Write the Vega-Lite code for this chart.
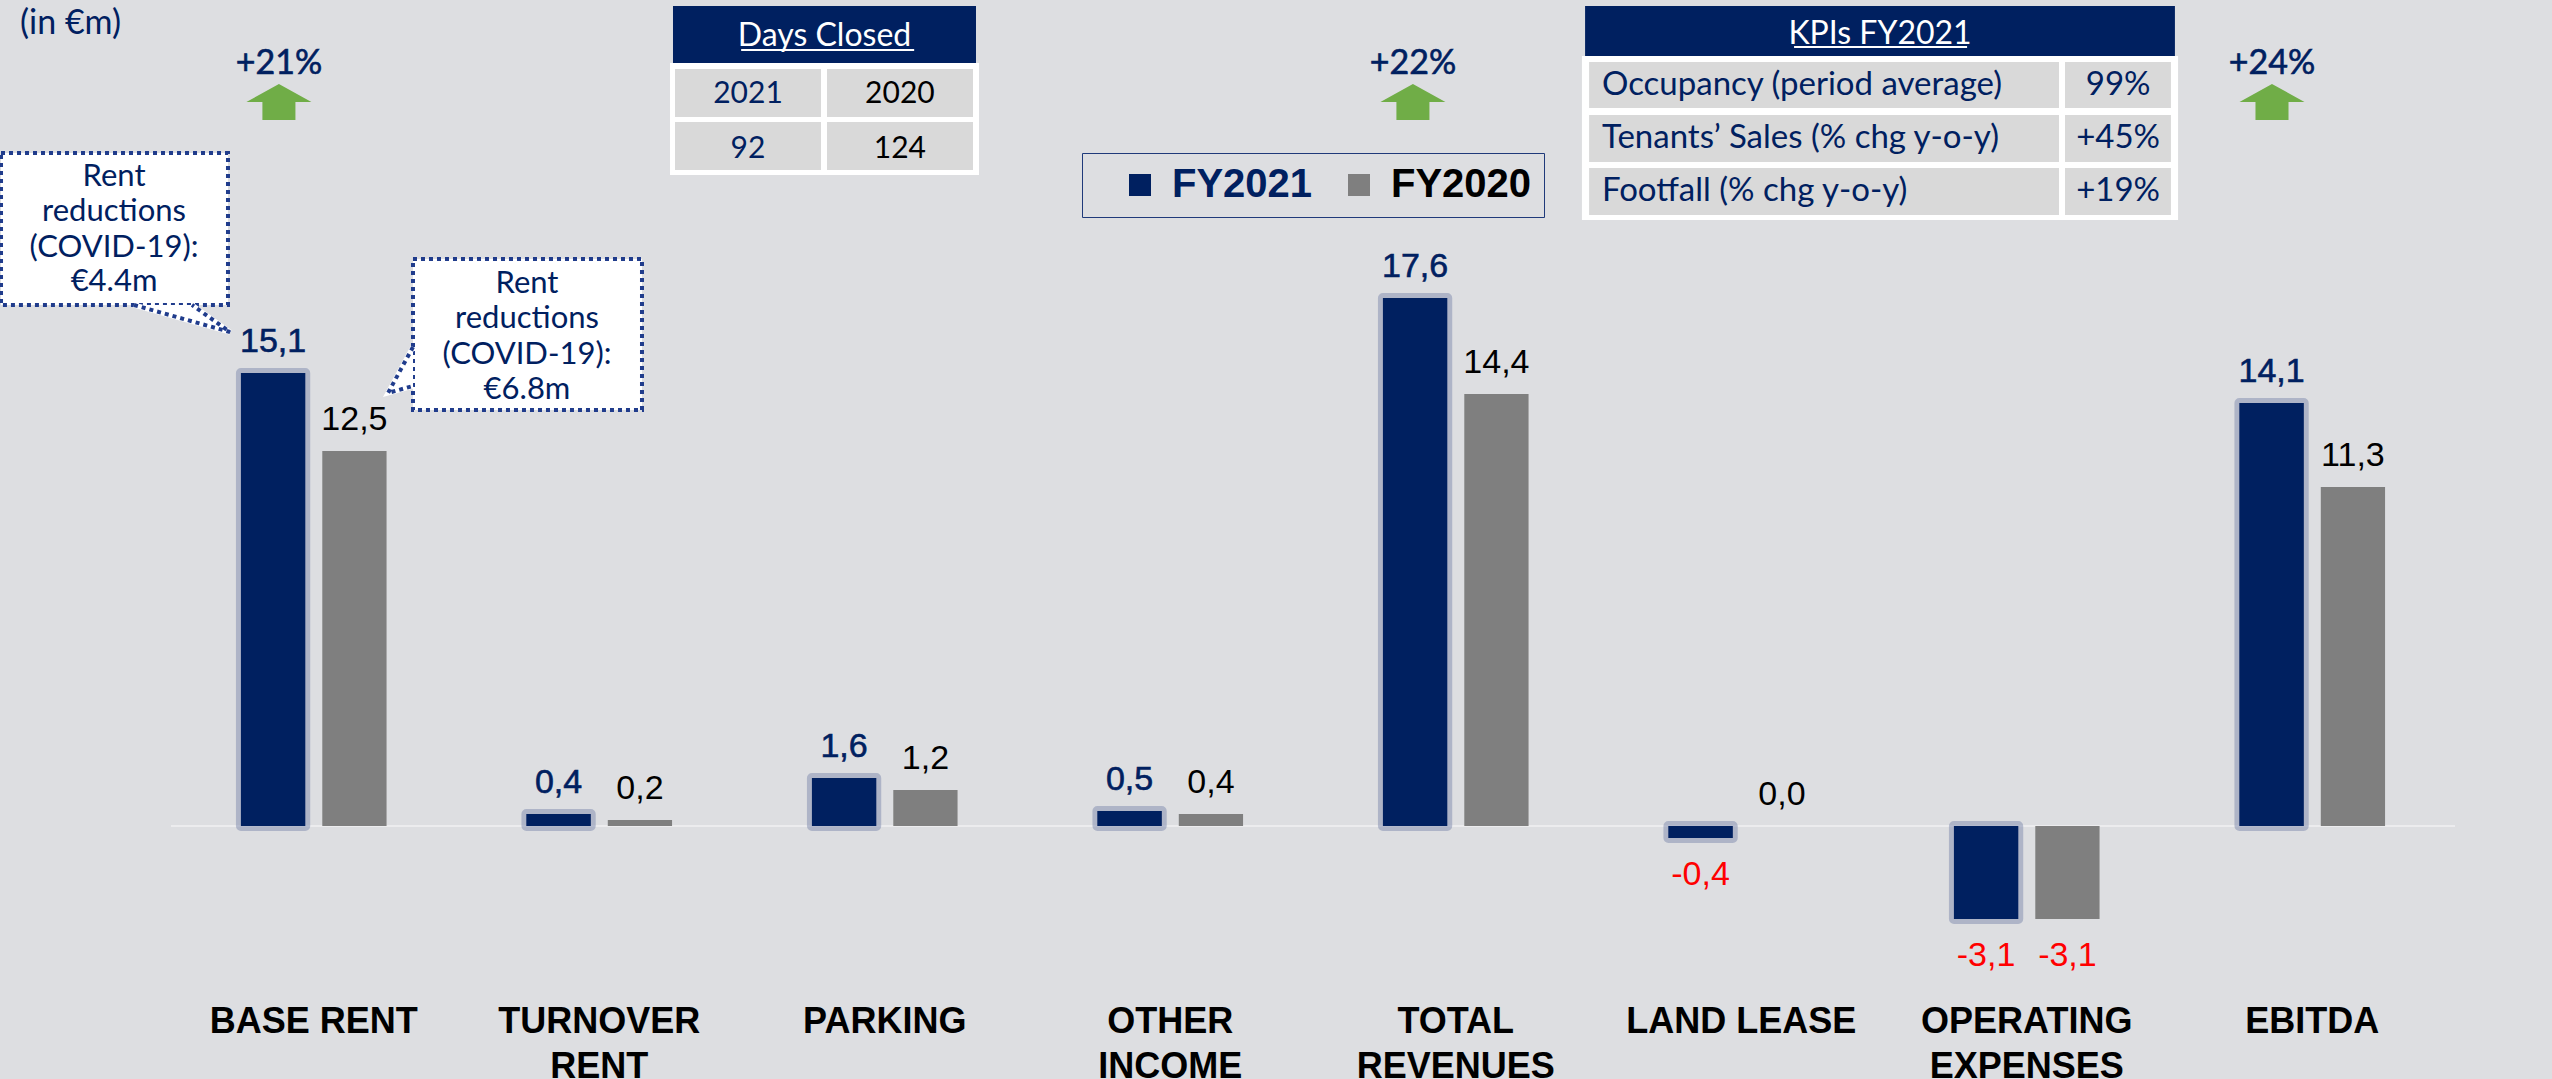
{
  "$schema": "https://vega.github.io/schema/vega-lite/v6.json",
  "width": 2552,
  "height": 985,
  "padding": {"left": 0, "top": 0, "right": 0, "bottom": 94},
  "autosize": {"type": "none"},
  "background": "#dddee1",
  "config": {
    "view": {"stroke": null},
    "locale": {"number": {"decimal": ",", "thousands": ".", "grouping": [3], "currency": ["", " €"], "minus": "-"}}
  },
  "datasets": {
    "bars": [
      {"cat": "BASE RENT", "series": "FY2021", "value": 15.1},
      {"cat": "BASE RENT", "series": "FY2020", "value": 12.5},
      {"cat": "TURNOVER|RENT", "series": "FY2021", "value": 0.4},
      {"cat": "TURNOVER|RENT", "series": "FY2020", "value": 0.2},
      {"cat": "PARKING", "series": "FY2021", "value": 1.6},
      {"cat": "PARKING", "series": "FY2020", "value": 1.2},
      {"cat": "OTHER|INCOME", "series": "FY2021", "value": 0.5},
      {"cat": "OTHER|INCOME", "series": "FY2020", "value": 0.4},
      {"cat": "TOTAL|REVENUES", "series": "FY2021", "value": 17.6},
      {"cat": "TOTAL|REVENUES", "series": "FY2020", "value": 14.4},
      {"cat": "LAND LEASE", "series": "FY2021", "value": -0.4},
      {"cat": "LAND LEASE", "series": "FY2020", "value": 0.0},
      {"cat": "OPERATING|EXPENSES", "series": "FY2021", "value": -3.1},
      {"cat": "OPERATING|EXPENSES", "series": "FY2020", "value": -3.1},
      {"cat": "EBITDA", "series": "FY2021", "value": 14.1},
      {"cat": "EBITDA", "series": "FY2020", "value": 11.3}
    ],
    "baseline": [{"u": 0, "u2": 8, "v": 0}],
    "rects": [
      {"grp": "frame", "u": 1.7478, "u2": 2.8301, "v": 25.433, "v2": 21.7},
      {"grp": "frame", "u": 4.942, "u2": 7.03, "v": 25.667, "v2": 20.2},
      {"grp": "header", "u": 1.7583, "u2": 2.8196, "v": 27.333, "v2": 25.433},
      {"grp": "header", "u": 4.953, "u2": 7.019, "v": 27.333, "v2": 25.667},
      {"grp": "cell", "u": 1.7653, "u2": 2.2767, "v": 25.233, "v2": 23.633},
      {"grp": "cell", "u": 2.2977, "u2": 2.8091, "v": 25.233, "v2": 23.633},
      {"grp": "cell", "u": 1.7653, "u2": 2.2767, "v": 23.467, "v2": 21.867},
      {"grp": "cell", "u": 2.2977, "u2": 2.8091, "v": 23.467, "v2": 21.867},
      {"grp": "cell", "u": 4.967, "u2": 6.613, "v": 25.467, "v2": 23.933},
      {"grp": "cell", "u": 6.634, "u2": 7.005, "v": 25.467, "v2": 23.933},
      {"grp": "cell", "u": 4.967, "u2": 6.613, "v": 23.7, "v2": 22.133},
      {"grp": "cell", "u": 6.634, "u2": 7.005, "v": 23.7, "v2": 22.133},
      {"grp": "cell", "u": 4.967, "u2": 6.613, "v": 21.933, "v2": 20.367},
      {"grp": "cell", "u": 6.634, "u2": 7.005, "v": 21.933, "v2": 20.367},
      {"grp": "callout", "u": -0.5954, "u2": 0.1996, "v": 22.433, "v2": 17.367},
      {"grp": "callout", "u": 0.8476, "u2": 1.6497, "v": 18.9, "v2": 13.867}
    ],
    "tails": [
      {"id": 1, "ord": 1, "u": -0.1296, "v": 17.367},
      {"id": 1, "ord": 2, "u": 0.2067, "v": 16.467},
      {"id": 1, "ord": 3, "u": 0.0736, "v": 17.367},
      {"id": 2, "ord": 1, "u": 0.8476, "v": 15.967},
      {"id": 2, "ord": 2, "u": 0.7601, "v": 14.433},
      {"id": 2, "ord": 3, "u": 0.8476, "v": 14.667}
    ],
    "underlines": [
      {"u": 1.997, "u2": 2.603, "v": 25.867},
      {"u": 5.685, "u2": 6.291, "v": 25.967}
    ],
    "arrows": [
      {"u": 0.378, "v": 24.133},
      {"u": 4.35, "v": 24.133},
      {"u": 7.359, "v": 24.133}
    ],
    "texts": [
      {"grp": "unit", "t": "(in €m)", "u": -0.529, "v": 26.733},
      {"grp": "pct", "t": "+21%", "u": 0.378, "v": 25.4},
      {"grp": "pct", "t": "+22%", "u": 4.35, "v": 25.4},
      {"grp": "pct", "t": "+24%", "u": 7.359, "v": 25.4},
      {"grp": "callout", "t": "Rent", "u": -0.1996, "v": 21.633},
      {"grp": "callout", "t": "reductions", "u": -0.1996, "v": 20.467},
      {"grp": "callout", "t": "(COVID-19):", "u": -0.1996, "v": 19.267},
      {"grp": "callout", "t": "€4.4m", "u": -0.1996, "v": 18.133},
      {"grp": "callout", "t": "Rent", "u": 1.2469, "v": 18.067},
      {"grp": "callout", "t": "reductions", "u": 1.2469, "v": 16.9},
      {"grp": "callout", "t": "(COVID-19):", "u": 1.2469, "v": 15.7},
      {"grp": "callout", "t": "€6.8m", "u": 1.2469, "v": 14.533},
      {"grp": "head", "t": "Days Closed", "u": 2.289, "v": 26.333},
      {"grp": "head", "t": "KPIs FY2021", "u": 5.986, "v": 26.4},
      {"grp": "days21", "t": "2021", "u": 2.021, "v": 24.4},
      {"grp": "days21", "t": "92", "u": 2.021, "v": 22.567},
      {"grp": "days20", "t": "2020", "u": 2.553, "v": 24.4},
      {"grp": "days20", "t": "124", "u": 2.553, "v": 22.567},
      {"grp": "kpil", "t": "Occupancy (period average)", "u": 5.012, "v": 24.7},
      {"grp": "kpil", "t": "Tenants’ Sales (% chg y-o-y)", "u": 5.012, "v": 22.933},
      {"grp": "kpil", "t": "Footfall (% chg y-o-y)", "u": 5.012, "v": 21.167},
      {"grp": "kpiv", "t": "99%", "u": 6.82, "v": 24.7},
      {"grp": "kpiv", "t": "+45%", "u": 6.82, "v": 22.933},
      {"grp": "kpiv", "t": "+19%", "u": 6.82, "v": 21.167}
    ]
  },
  "layer": [
    {
      "data": {"name": "baseline"},
      "mark": {"type": "rule", "color": "#ececee", "strokeWidth": 2},
      "encoding": {
        "x": {"field": "u", "type": "quantitative", "scale": {"domain": [0, 8], "range": [171, 2455], "nice": false, "zero": false}, "axis": null},
        "x2": {"field": "u2"},
        "y": {"field": "v", "type": "quantitative", "scale": {"domain": [-5.3, 27.533], "nice": false, "zero": false}, "axis": null}
      }
    },
    {
      "data": {"name": "bars"},
      "encoding": {
        "x": {
          "field": "cat", "type": "nominal", "sort": null,
          "scale": {"range": [171, 2455], "paddingInner": 0.49, "paddingOuter": 0.245},
          "axis": {
            "title": null, "domain": false, "ticks": false, "grid": false, "labelAngle": 0,
            "labelFont": "Liberation Sans", "labelFontSize": 36, "labelFontWeight": "bold", "labelColor": "#000000",
            "labelPadding": 19, "labelBaseline": "top", "labelLineHeight": 45,
            "labelExpr": "split(datum.label, '|')", "labelLimit": 500, "labelOverlap": false
          }
        },
        "xOffset": {"field": "series", "type": "nominal", "sort": ["FY2021", "FY2020"], "scale": {"paddingInner": 0.21, "paddingOuter": 0}},
        "y": {"field": "value", "type": "quantitative", "scale": {"domain": [-5.3, 27.533], "nice": false, "zero": false}, "axis": null}
      },
      "layer": [
        {
          "transform": [{"filter": "datum.series == 'FY2021'"}],
          "mark": {"type": "bar", "fill": "#002060", "stroke": "#8791b3", "strokeWidth": 10, "strokeOpacity": 0.55, "strokeJoin": "round"}
        },
        {
          "mark": {"type": "bar"},
          "encoding": {
            "color": {
              "field": "series", "type": "nominal",
              "scale": {"domain": ["FY2021", "FY2020"], "range": ["#002060", "#7f7f7f"]},
              "legend": {
                "orient": "none", "legendX": 1082, "legendY": 153, "direction": "horizontal", "title": null,
                "symbolType": "square", "symbolSize": 484, "symbolStrokeWidth": 0, "symbolOpacity": 1,
                "labelFont": "Liberation Sans", "labelFontSize": 40, "labelFontWeight": "bold",
                "padding": 12, "strokeColor": "#1f3a7a", "symbolOffset": 26, "labelOffset": 12,
                "columnPadding": 0, "labelLimit": 400,
                "encode": {"labels": {"update": {"fill": {"signal": "datum.value === 'FY2021' ? '#002060' : '#000000'"}}}}
              }
            }
          }
        },
        {
          "transform": [{"filter": "datum.series == 'FY2021' && datum.value >= 0"}],
          "mark": {"type": "text", "font": "Liberation Sans", "fontSize": 34, "color": "#002060", "stroke": "#002060", "strokeWidth": 0.6, "baseline": "alphabetic", "dy": -21},
          "encoding": {"text": {"field": "value", "type": "quantitative", "format": ".1f"}}
        },
        {
          "transform": [{"filter": "datum.series == 'FY2020' && datum.value >= 0"}],
          "mark": {"type": "text", "font": "Liberation Sans", "fontSize": 34, "color": "#000000", "baseline": "alphabetic", "dy": -21},
          "encoding": {"text": {"field": "value", "type": "quantitative", "format": ".1f"}}
        },
        {
          "transform": [{"filter": "datum.value < 0"}],
          "mark": {"type": "text", "font": "Liberation Sans", "fontSize": 34, "color": "#ff0000", "baseline": "top", "dy": 20},
          "encoding": {"text": {"field": "value", "type": "quantitative", "format": ".1f"}}
        }
      ]
    },
    {
      "encoding": {
        "x": {"field": "u", "type": "quantitative", "scale": {"domain": [0, 8], "range": [171, 2455], "nice": false, "zero": false}, "axis": null},
        "y": {"field": "v", "type": "quantitative", "scale": {"domain": [-5.3, 27.533], "nice": false, "zero": false}, "axis": null}
      },
      "layer": [
        {
          "data": {"name": "rects"},
          "transform": [{"filter": "datum.grp == 'frame'"}],
          "mark": {"type": "rect", "color": "#ffffff"},
          "encoding": {"x2": {"field": "u2"}, "y2": {"field": "v2"}}
        },
        {
          "data": {"name": "rects"},
          "transform": [{"filter": "datum.grp == 'header'"}],
          "mark": {"type": "rect", "color": "#002060"},
          "encoding": {"x2": {"field": "u2"}, "y2": {"field": "v2"}}
        },
        {
          "data": {"name": "rects"},
          "transform": [{"filter": "datum.grp == 'cell'"}],
          "mark": {"type": "rect", "color": "#d9d9d9"},
          "encoding": {"x2": {"field": "u2"}, "y2": {"field": "v2"}}
        },
        {
          "data": {"name": "rects"},
          "transform": [{"filter": "datum.grp == 'callout'"}],
          "mark": {"type": "rect", "fill": "#ffffff", "stroke": "#203c8c", "strokeWidth": 4, "strokeDash": [4, 4]},
          "encoding": {"x2": {"field": "u2"}, "y2": {"field": "v2"}}
        },
        {
          "data": {"name": "tails"},
          "mark": {"type": "line", "fill": "#ffffff", "stroke": "#ffffff", "strokeWidth": 5},
          "encoding": {"detail": {"field": "id"}, "order": {"field": "ord"}}
        },
        {
          "data": {"name": "tails"},
          "mark": {"type": "line", "stroke": "#203c8c", "strokeWidth": 4, "strokeDash": [4, 4]},
          "encoding": {"detail": {"field": "id"}, "order": {"field": "ord"}}
        },
        {
          "data": {"name": "underlines"},
          "mark": {"type": "rule", "color": "#ffffff", "strokeWidth": 2},
          "encoding": {"x2": {"field": "u2"}}
        },
        {
          "data": {"name": "arrows"},
          "mark": {"type": "point", "shape": "M0,-0.554 L1,0 L0.508,0 L0.508,0.554 L-0.508,0.554 L-0.508,0 L-1,0 Z", "size": 4225, "filled": true, "color": "#70ad47", "opacity": 1, "strokeWidth": 0}
        },
        {
          "data": {"name": "texts"},
          "transform": [{"filter": "datum.grp == 'unit'"}],
          "mark": {"type": "text", "font": "Lato", "fontSize": 34, "color": "#002060", "align": "left", "baseline": "middle"},
          "encoding": {"text": {"field": "t"}}
        },
        {
          "data": {"name": "texts"},
          "transform": [{"filter": "datum.grp == 'pct'"}],
          "mark": {"type": "text", "font": "Lato", "fontSize": 34, "color": "#002060", "stroke": "#002060", "strokeWidth": 0.6, "align": "center", "baseline": "middle"},
          "encoding": {"text": {"field": "t"}}
        },
        {
          "data": {"name": "texts"},
          "transform": [{"filter": "datum.grp == 'callout'"}],
          "mark": {"type": "text", "font": "Lato", "fontSize": 31, "color": "#002060", "align": "center", "baseline": "middle"},
          "encoding": {"text": {"field": "t"}}
        },
        {
          "data": {"name": "texts"},
          "transform": [{"filter": "datum.grp == 'head'"}],
          "mark": {"type": "text", "font": "Lato", "fontSize": 32, "color": "#ffffff", "align": "center", "baseline": "middle"},
          "encoding": {"text": {"field": "t"}}
        },
        {
          "data": {"name": "texts"},
          "transform": [{"filter": "datum.grp == 'days21'"}],
          "mark": {"type": "text", "font": "Lato", "fontSize": 30, "color": "#002060", "align": "center", "baseline": "middle"},
          "encoding": {"text": {"field": "t"}}
        },
        {
          "data": {"name": "texts"},
          "transform": [{"filter": "datum.grp == 'days20'"}],
          "mark": {"type": "text", "font": "Lato", "fontSize": 30, "color": "#000000", "align": "center", "baseline": "middle"},
          "encoding": {"text": {"field": "t"}}
        },
        {
          "data": {"name": "texts"},
          "transform": [{"filter": "datum.grp == 'kpil'"}],
          "mark": {"type": "text", "font": "Lato", "fontSize": 33, "color": "#002060", "align": "left", "baseline": "middle"},
          "encoding": {"text": {"field": "t"}}
        },
        {
          "data": {"name": "texts"},
          "transform": [{"filter": "datum.grp == 'kpiv'"}],
          "mark": {"type": "text", "font": "Lato", "fontSize": 33, "color": "#002060", "align": "center", "baseline": "middle"},
          "encoding": {"text": {"field": "t"}}
        }
      ]
    }
  ],
  "resolve": {"scale": {"x": "independent"}}
}
